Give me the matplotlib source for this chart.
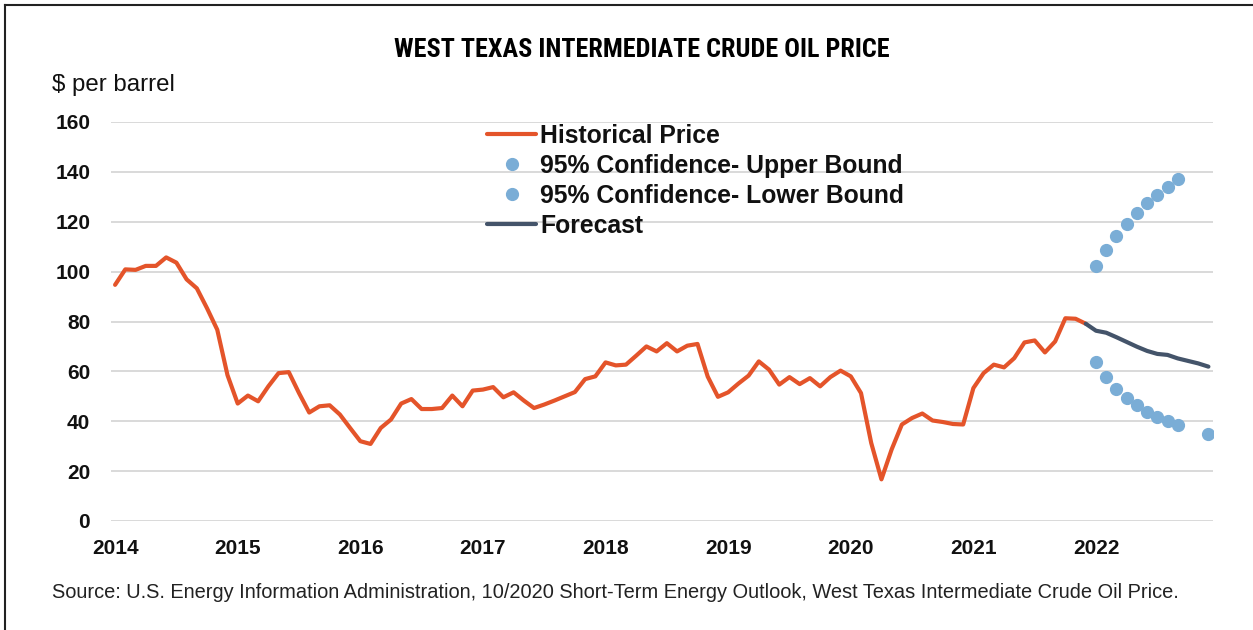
import matplotlib
matplotlib.use("Agg")
import matplotlib.pyplot as plt
import pandas as pd

# ---------------- data ----------------
year_labels = ["2014", "2015", "2016", "2017", "2018", "2019", "2020", "2021", "2022"]
months = [str(p) for p in pd.period_range("2014-01", "2022-12", freq="M")]

# Historical WTI price, monthly Jan 2014 - Dec 2021 ($/bbl)
historical = [
    94.7, 100.9, 100.7, 102.3, 102.3, 105.7, 103.6, 96.9, 93.3, 85.3, 76.7, 58.5,
    47.1, 50.3, 48.0, 54.0, 59.3, 59.7, 51.3, 43.5, 46.0, 46.4, 42.7, 37.3,
    32.0, 30.9, 37.3, 40.7, 47.1, 48.9, 44.9, 44.9, 45.3, 50.3, 46.0, 52.3,
    52.7, 53.7, 49.6, 51.6, 48.3, 45.3, 46.7, 48.3, 50.0, 51.7, 56.9, 58.0,
    63.6, 62.4, 62.7, 66.3, 70.0, 68.0, 71.3, 68.0, 70.3, 71.0, 57.9, 49.8,
    51.6, 55.1, 58.3, 64.0, 60.7, 54.7, 57.7, 54.9, 57.3, 54.0, 57.7, 60.3,
    58.0, 51.3, 31.3, 16.7, 28.7, 38.7, 41.3, 43.1, 40.3, 39.7, 38.9, 38.7,
    53.3, 59.3, 62.7, 61.6, 65.3, 71.6, 72.4, 67.6, 72.0, 81.3, 81.1, 79.1,
]
# Forecast, monthly Dec 2021 - Dec 2022
forecast_start = "2021-12"
forecast = [79.1, 76.3, 75.5, 73.7, 71.8, 69.9, 68.2, 67.0, 66.6, 65.2, 64.2, 63.2, 61.9]

upper_months = ["2022-01", "2022-02", "2022-03", "2022-04", "2022-05",
                "2022-06", "2022-07", "2022-08", "2022-09"]
upper_bound = [102.2, 108.7, 114.4, 119.0, 123.4, 127.4, 130.8, 133.8, 137.1]

lower_months = ["2022-01", "2022-02", "2022-03", "2022-04", "2022-05",
                "2022-06", "2022-07", "2022-08", "2022-09", "2022-12"]
lower_bound = [63.6, 57.9, 52.9, 49.2, 46.5, 43.9, 41.8, 40.2, 38.5, 34.9]

y_ticks = [0, 20, 40, 60, 80, 100, 120, 140, 160]

# ---------------- style ----------------
ORANGE = "#E4542A"
DARK = "#44546A"
BLUE = "#7AADD6"
GRID = "#D9D9D9"
FONT = ["Liberation Sans", "DejaVu Sans"]
TITLE_FONT = ["Roboto Condensed", "DejaVu Sans"]
plt.rcParams["font.family"] = FONT

W, H = 1253, 630
fig = plt.figure(figsize=(W / 100, H / 100), dpi=100)
fig.patch.set_facecolor("white")


def fx(px):
    return px / W


def fy(py):
    return 1 - py / H


ax = fig.add_axes([fx(111), fy(521), fx(1213) - fx(111), fy(122) - fy(521)])

pos = {m: i for i, m in enumerate(months)}
x_hist = list(range(len(historical)))
x_fc = list(range(pos[forecast_start], pos[forecast_start] + len(forecast)))
x_up = [pos[m] for m in upper_months]
x_lo = [pos[m] for m in lower_months]

ax.plot(x_hist, historical, color=ORANGE, lw=3.0, solid_joinstyle="round",
        solid_capstyle="round", label="Historical Price", zorder=3)
ax.plot(x_up, upper_bound, ls="none", marker="o", ms=8.5, color=BLUE,
        mec=BLUE, label="95% Confidence- Upper Bound", zorder=4)
ax.plot(x_lo, lower_bound, ls="none", marker="o", ms=8.5, color=BLUE,
        mec=BLUE, label="95% Confidence- Lower Bound", zorder=4)
ax.plot(x_fc, forecast, color=DARK, lw=3.0, solid_joinstyle="round",
        solid_capstyle="round", label="Forecast", zorder=3)

ax.set_xlim(-0.4, len(months) - 1 + 0.45)
ax.set_ylim(0, 160)
ax.set_yticks(y_ticks)
ax.set_yticklabels([str(v) for v in y_ticks])
ax.set_xticks([pos[y + "-01"] for y in year_labels])
ax.set_xticklabels(year_labels)
ax.grid(axis="y", color=GRID, lw=1.4)
ax.set_axisbelow(True)
for s in ax.spines.values():
    s.set_visible(False)
ax.tick_params(length=0)
ax.tick_params(axis="y", pad=15)
ax.tick_params(axis="x", pad=13)
for lab in ax.get_xticklabels() + ax.get_yticklabels():
    lab.set_fontweight("bold")
    lab.set_fontsize(15)
    lab.set_color("#111111")

leg = ax.legend(loc="upper left", bbox_to_anchor=(fx(487), fy(124)),
                bbox_transform=fig.transFigure, frameon=False,
                prop={"family": FONT, "weight": "bold", "size": 17.8},
                handlelength=2.0, handletextpad=0.15, labelspacing=0.24,
                borderpad=0, borderaxespad=0)
for t in leg.get_texts():
    t.set_color("#111111")

title = fig.text(fx(642), fy(50), "WEST TEXAS INTERMEDIATE CRUDE OIL PRICE",
                 ha="center", va="center", fontsize=20, fontweight="bold",
                 family=TITLE_FONT, color="#000000")
# fit the condensed title to the reference width
renderer = fig.canvas.get_renderer()
tw = title.get_window_extent(renderer).width
title.set_fontsize(20 * 494.0 / tw)

fig.text(fx(52), fy(85), "$ per barrel", ha="left", va="center",
         fontsize=17.3, color="#111111")
fig.text(fx(52), fy(593),
         "Source: U.S. Energy Information Administration, 10/2020 Short-Term Energy Outlook, "
         "West Texas Intermediate Crude Oil Price.",
         ha="left", va="center", fontsize=14.4, color="#222222")

# frame lines of the panel (top and left edges)
fig.add_artist(plt.Line2D([fx(5), fx(W)], [fy(5), fy(5)], transform=fig.transFigure,
                          color="#222222", lw=1.5))
fig.add_artist(plt.Line2D([fx(5), fx(5)], [fy(5), fy(H)], transform=fig.transFigure,
                          color="#222222", lw=1.5))

fig.savefig("out.png", dpi=100, facecolor="white")
